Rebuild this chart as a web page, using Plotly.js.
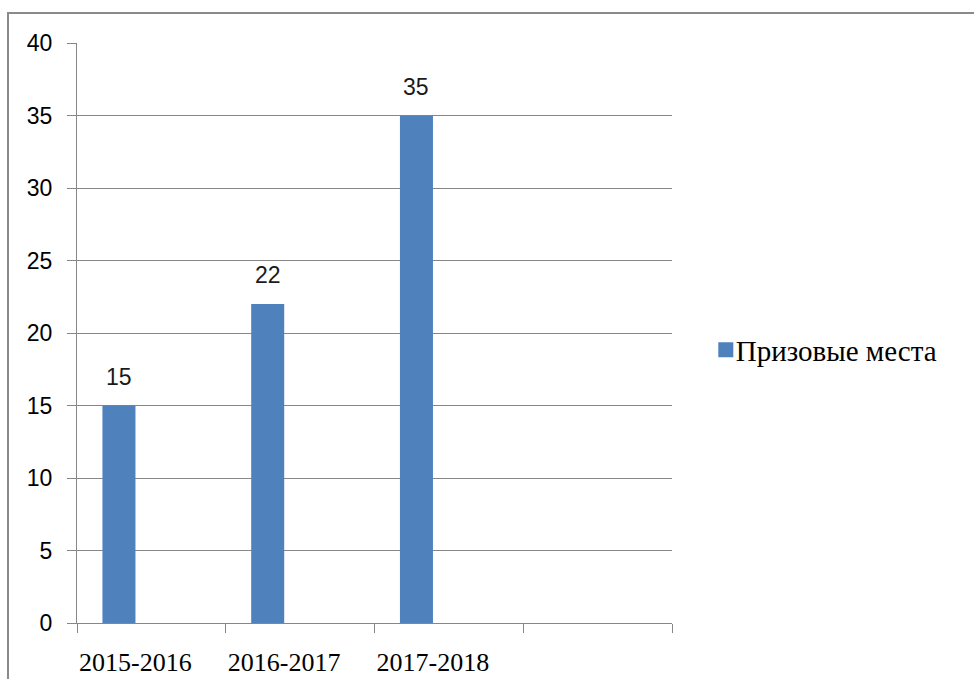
<!DOCTYPE html>
<html>
<head>
<meta charset="utf-8">
<script src="https://cdn.plot.ly/plotly-3.0.1.min.js"></script>
<style>
  html, body { margin: 0; padding: 0; background: #fff; overflow: hidden; }
  #chart { position: absolute; left: 0; top: 0; width: 974px; height: 679px; }
  #frame { position: absolute; left: 7px; top: 12px; width: 1000px; height: 700px;
           border-top: 2px solid #8a8a8a; border-left: 2px solid #8a8a8a; pointer-events: none; }
  #chart .legend .legendpoints { transform: translate(5px, 0px) scale(1.25); }
</style>
</head>
<body>
<div id="chart"></div>
<div id="frame"></div>
<script>
const categories = ['2015-2016', '2016-2017', '2017-2018', ' '];
const values = [15, 22, 35, null];
const seriesName = 'Призовые места';
const yTicks = [0, 5, 10, 15, 20, 25, 30, 35, 40];

const barColor = '#4F81BD';
const gridColor = '#878787';
const barOffset = -0.329;
const barWidth = 0.222;

const trace = {
  type: 'bar',
  name: seriesName,
  x: categories,
  y: values,
  offset: barOffset,
  width: barWidth,
  marker: { color: barColor },
  hoverinfo: 'skip'
};

// empty trace that only carries the label axes (x2/y2)
const labelTrace = {
  type: 'scatter', mode: 'markers', x: [], y: [],
  xaxis: 'x2', yaxis: 'y2', showlegend: false, hoverinfo: 'skip'
};

const annotations = [];
values.forEach((v, i) => {
  if (v === null) return;
  annotations.push({
    xref: 'x', yref: 'y',
    x: i + barOffset + barWidth / 2,
    y: v,
    text: String(v),
    showarrow: false,
    xanchor: 'center', yanchor: 'bottom',
    yshift: 14,
    font: { family: 'Liberation Sans, Arial, sans-serif', size: 23, color: '#1a1a1a' }
  });
});

const catIdx = categories.map((c, i) => i);

const layout = {
  width: 974, height: 679,
  margin: { l: 77, r: 302, t: 43, b: 56, pad: 0 },
  paper_bgcolor: '#ffffff',
  plot_bgcolor: '#ffffff',
  showlegend: true,
  legend: {
    x: 1.04, xanchor: 'left',
    y: 0.471, yanchor: 'middle',
    font: { family: 'Liberation Serif, Times New Roman, serif', size: 29, color: '#000' },
    bgcolor: 'rgba(0,0,0,0)'
  },
  xaxis: {
    type: 'category',
    categoryorder: 'array',
    categoryarray: categories,
    range: [-0.5, 3.5],
    tickson: 'boundaries',
    ticks: 'outside', ticklen: 9, tickcolor: gridColor, tickwidth: 1,
    showline: true, linecolor: gridColor, linewidth: 1,
    showgrid: false, zeroline: false,
    showticklabels: false,
    fixedrange: true
  },
  xaxis2: {
    overlaying: 'x', anchor: 'y2', side: 'bottom',
    type: 'linear',
    range: [-0.5, 3.5],
    tickmode: 'array', tickvals: catIdx, ticktext: categories,
    ticks: 'outside', ticklen: 16, tickcolor: 'rgba(0,0,0,0)',
    showline: false, showgrid: false, zeroline: false,
    ticklabelshift: -16,
    tickfont: { family: 'Liberation Serif, Times New Roman, serif', size: 26, color: '#000' },
    fixedrange: true
  },
  yaxis: {
    range: [0, 40],
    tickvals: yTicks,
    ticks: 'outside', ticklen: 9, tickcolor: gridColor, tickwidth: 1,
    showline: true, linecolor: gridColor, linewidth: 1,
    showgrid: true, gridcolor: gridColor, gridwidth: 1,
    zeroline: false,
    showticklabels: false,
    fixedrange: true
  },
  yaxis2: {
    overlaying: 'y', anchor: 'x2', side: 'left',
    range: [0, 40],
    tickvals: yTicks,
    ticks: 'outside', ticklen: 19, tickcolor: 'rgba(0,0,0,0)',
    showline: false, showgrid: false, zeroline: false,
    tickfont: { family: 'Liberation Sans, Arial, sans-serif', size: 23, color: '#000' },
    fixedrange: true
  },
  annotations: annotations
};

Plotly.newPlot('chart', [trace, labelTrace], layout, { displayModeBar: false, staticPlot: true });
</script>
</body>
</html>
